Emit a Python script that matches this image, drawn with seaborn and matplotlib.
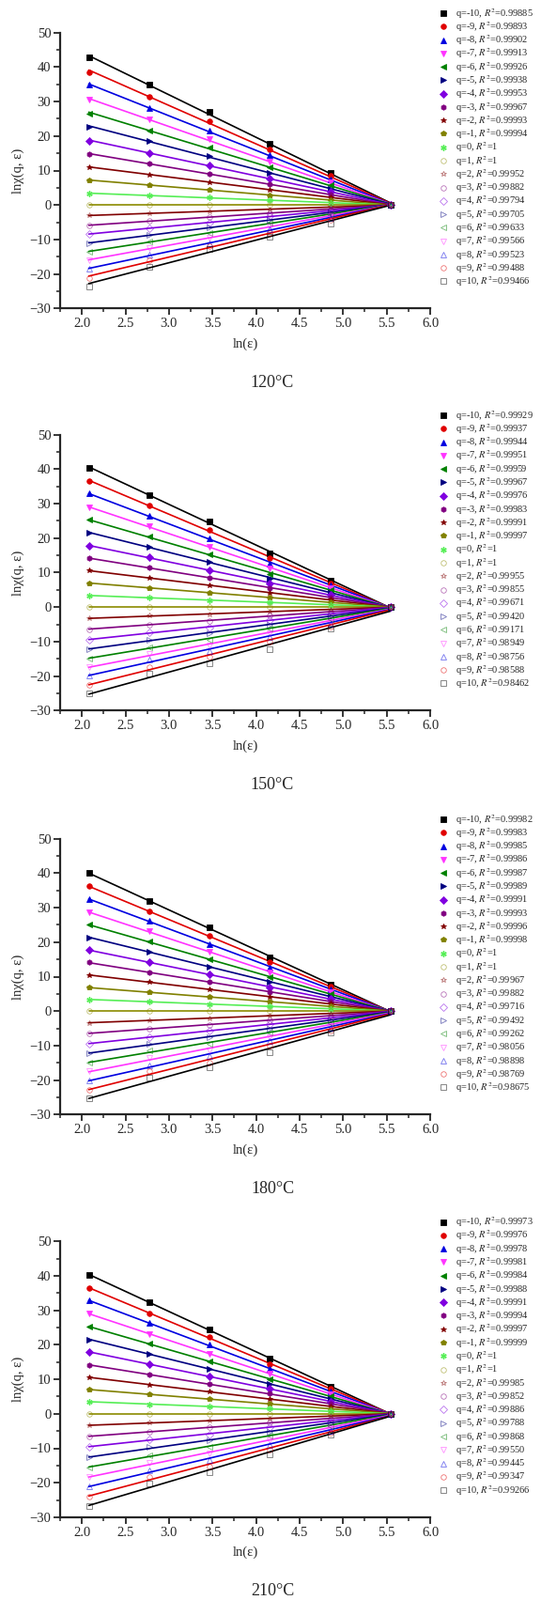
import numpy as np
import matplotlib
matplotlib.use("Agg")
import matplotlib.pyplot as plt
from matplotlib.lines import Line2D
from matplotlib.ticker import MultipleLocator, FormatStrFormatter
import seaborn as sns

sns.set_style("ticks")
plt.rcParams['font.family'] = ['Liberation Serif', 'DejaVu Serif']
plt.rcParams['mathtext.fontset'] = 'stix'

# ln(epsilon) box sizes 8..256
ln_eps = [2.079, 2.773, 3.466, 4.159, 4.852, 5.545]
q_values = list(range(-10, 11))
temps = ['120°C', '150°C', '180°C', '210°C']

# ln chi(q, eps), one row per q (-10 ... 10), columns follow ln_eps
chi_120 = [
    [42.7, 34.8, 27.0, 17.9, 9.3, 0], [38.6, 31.5, 24.3, 16.1, 8.4, 0],
    [34.8, 28.2, 21.5, 14.4, 7.5, 0], [30.6, 24.8, 19.0, 12.6, 6.6, 0],
    [26.6, 21.7, 16.6, 11.0, 5.7, 0], [22.7, 18.5, 14.1, 9.4, 4.8, 0],
    [18.7, 15.1, 11.5, 7.6, 3.9, 0], [14.8, 12.0, 9.1, 6.0, 3.0, 0],
    [11.0, 8.9, 6.6, 4.5, 2.2, 0], [7.2, 5.8, 4.4, 2.9, 1.4, 0],
    [3.45, 2.7, 2.1, 1.4, 0.7, 0], [0, 0, 0, 0, 0, 0],
    [-3.0, -2.5, -1.8, -1.2, -0.6, 0], [-5.9, -4.7, -3.5, -2.3, -1.2, 0],
    [-8.5, -6.7, -5.0, -3.3, -1.7, 0], [-11.2, -8.6, -6.5, -4.3, -2.2, 0],
    [-13.6, -10.7, -8.0, -5.2, -2.7, 0], [-16.1, -12.5, -9.5, -6.2, -3.2, 0],
    [-18.6, -14.5, -11.0, -7.1, -3.7, 0], [-21.2, -16.0, -12.0, -8.0, -4.3, 0],
    [-23.6, -17.8, -12.7, -9.1, -5.3, 0],
]
chi_150 = [
    [40.5, 32.6, 24.8, 15.7, 7.7, 0], [36.7, 29.5, 22.3, 14.1, 7.0, 0],
    [32.9, 26.4, 19.9, 12.7, 6.3, 0], [29.0, 23.4, 17.6, 11.1, 5.6, 0],
    [25.3, 20.4, 15.3, 9.7, 4.9, 0], [21.7, 17.4, 13.0, 8.3, 4.2, 0],
    [17.9, 14.4, 10.7, 6.8, 3.5, 0], [14.2, 11.4, 8.6, 5.5, 2.8, 0],
    [10.6, 8.5, 6.3, 4.1, 2.1, 0], [7.0, 5.6, 4.2, 2.7, 1.4, 0],
    [3.4, 2.7, 2.0, 1.4, 0.7, 0], [0, 0, 0, 0, 0, 0],
    [-3.3, -2.5, -2.1, -1.2, -0.7, 0], [-6.4, -5.0, -4.0, -2.5, -1.4, 0],
    [-9.4, -7.4, -5.9, -3.7, -2.1, 0], [-12.1, -9.5, -7.7, -5.0, -2.8, 0],
    [-14.8, -11.6, -9.4, -6.2, -3.5, 0], [-17.4, -13.5, -11.2, -7.6, -4.2, 0],
    [-19.8, -15.3, -12.7, -8.7, -4.9, 0], [-22.5, -17.4, -14.4, -10.0, -5.6, 0],
    [-25.0, -19.4, -16.4, -12.1, -6.3, 0],
]
chi_180 = [
    [40.0, 32.0, 24.2, 15.6, 7.8, 0], [36.2, 29.0, 21.8, 14.1, 7.1, 0],
    [32.5, 26.1, 19.5, 12.7, 6.4, 0], [28.7, 23.1, 17.2, 11.2, 5.6, 0],
    [25.0, 20.1, 15.1, 9.9, 4.9, 0], [21.4, 17.2, 12.9, 8.4, 4.2, 0],
    [17.7, 14.2, 10.6, 6.9, 3.5, 0], [14.1, 11.2, 8.4, 5.6, 2.8, 0],
    [10.5, 8.4, 6.3, 4.1, 2.1, 0], [6.8, 5.5, 4.1, 2.7, 1.4, 0],
    [3.4, 2.7, 2.0, 1.4, 0.7, 0], [0, 0, 0, 0, 0, 0],
    [-3.4, -2.7, -2.0, -1.3, -0.7, 0], [-6.5, -5.1, -3.9, -2.6, -1.4, 0],
    [-9.4, -7.5, -5.8, -3.8, -2.1, 0], [-12.2, -9.5, -7.7, -5.0, -2.8, 0],
    [-14.9, -11.5, -9.5, -6.3, -3.5, 0], [-17.5, -13.7, -11.3, -7.5, -4.2, 0],
    [-20.1, -15.7, -13.0, -8.8, -4.9, 0], [-22.7, -17.5, -14.8, -10.0, -5.6, 0],
    [-25.3, -19.3, -16.3, -12.0, -6.3, 0],
]
chi_210 = [
    [40.3, 32.3, 24.6, 16.0, 7.9, 0], [36.5, 29.2, 22.2, 14.5, 7.2, 0],
    [32.8, 26.3, 20.0, 13.0, 6.4, 0], [29.0, 23.2, 17.5, 11.6, 5.7, 0],
    [25.3, 20.3, 15.2, 10.1, 5.0, 0], [21.6, 17.3, 13.0, 8.7, 4.3, 0],
    [18.0, 14.3, 10.8, 7.3, 3.6, 0], [14.1, 11.4, 8.6, 5.9, 2.9, 0],
    [10.5, 8.5, 6.4, 4.4, 2.1, 0], [7.0, 5.6, 4.3, 3.0, 1.4, 0],
    [3.5, 2.8, 2.1, 1.5, 0.7, 0], [0, 0, 0, 0, 0, 0],
    [-3.4, -2.6, -2.0, -1.3, -0.7, 0], [-6.6, -5.1, -4.0, -2.6, -1.4, 0],
    [-9.6, -7.4, -6.0, -3.8, -2.1, 0], [-12.7, -9.7, -7.8, -5.1, -2.8, 0],
    [-15.5, -12.0, -9.7, -6.4, -3.5, 0], [-18.3, -14.3, -11.6, -7.8, -4.2, 0],
    [-21.1, -16.3, -13.5, -9.1, -4.9, 0], [-23.9, -18.3, -15.3, -10.3, -5.6, 0],
    [-26.7, -20.3, -17.0, -11.7, -6.1, 0],
]

r2_120 = ['0.99885', '0.99893', '0.99902', '0.99913', '0.99926', '0.99938', '0.99953',
          '0.99967', '0.99993', '0.99994', '1', '1', '0.99952', '0.99882', '0.99794',
          '0.99705', '0.99633', '0.99566', '0.99523', '0.99488', '0.99466']
r2_150 = ['0.99929', '0.99937', '0.99944', '0.99951', '0.99959', '0.99967', '0.99976',
          '0.99983', '0.99991', '0.99997', '1', '1', '0.99955', '0.99855', '0.99671',
          '0.99420', '0.99171', '0.98949', '0.98756', '0.98588', '0.98462']
r2_180 = ['0.99982', '0.99983', '0.99985', '0.99986', '0.99987', '0.99989', '0.99991',
          '0.99993', '0.99996', '0.99998', '1', '1', '0.99967', '0.99882', '0.99716',
          '0.99492', '0.99262', '0.98056', '0.98898', '0.98769', '0.98675']
r2_210 = ['0.99973', '0.99976', '0.99978', '0.99981', '0.99984', '0.99988', '0.99991',
          '0.99994', '0.99997', '0.99999', '1', '1', '0.99985', '0.99852', '0.99886',
          '0.99788', '0.99868', '0.99550', '0.99445', '0.99347', '0.99266']

# Origin-style colours / markers, q = -10 ... 10
colors = ['#000000', '#E00000', '#0000E0', '#FF33FF', '#008000', '#000080', '#8000E0',
          '#800080', '#800000', '#808000', '#55EE55', '#8B8B00', '#800000', '#800080',
          '#8000E0', '#000080', '#008000', '#FF33FF', '#0000E0', '#E00000', '#000000']
markers = ['s', 'o', '^', 'v', '<', '>', 'D', 'h', '*', 'p', (6, 2, 0), 'o', '*', 'o',
           'D', '>', '<', 'v', '^', 'o', 's']
hollow = [q >= 1 for q in q_values]

panels = [(chi_120, r2_120), (chi_150, r2_150), (chi_180, r2_180), (chi_210, r2_210)]

W, H = 576, 1703
fig = plt.figure(figsize=(W / 100, H / 100), dpi=100)

ax_left, ax_right = 64, 458
ax_tops = [34.7, 462.7, 892.7, 1321.3]
ax_h = 293.6

for (chi, r2), temp, top in zip(panels, temps, ax_tops):
    ax = fig.add_axes([ax_left / W, 1 - (top + ax_h) / H,
                       (ax_right - ax_left) / W, ax_h / H])
    handles = []
    for i, q in enumerate(q_values):
        y = chi[i]
        c = colors[i]
        sns.regplot(x=ln_eps, y=y, ax=ax, scatter=False, ci=None, truncate=True,
                    line_kws=dict(color=c, lw=1.2, zorder=2))
        if hollow[i]:
            kw = dict(marker=markers[i], ms=4, mfc='none', mec=c, mew=0.6, alpha=0.55)
        else:
            kw = dict(marker=markers[i], ms=4, mfc=c, mec=c, mew=0.6)
        if q == 0:
            kw = dict(marker=markers[i], ms=4.5, mfc=c, mec=c, mew=1.0)
        ax.plot(ln_eps, y, ls='none', zorder=3, **kw)
        handles.append(Line2D([], [], ls='none', label=f'q={q}, $R^2$={r2[i]}', **kw))

    ax.set_xlim(1.75, 6.0)
    ax.set_ylim(-30, 50)
    ax.xaxis.set_major_locator(MultipleLocator(0.5))
    ax.xaxis.set_minor_locator(MultipleLocator(0.25))
    ax.yaxis.set_major_locator(MultipleLocator(10))
    ax.yaxis.set_minor_locator(MultipleLocator(5))
    ax.xaxis.set_major_formatter(FormatStrFormatter('%.1f'))
    ax.tick_params(which='major', direction='out', length=5, width=1.3, labelsize=10.5, pad=2)
    ax.tick_params(which='minor', direction='out', length=3, width=1.1)
    for s in ['left', 'bottom']:
        ax.spines[s].set_linewidth(1.6)
    sns.despine(ax=ax)
    ax.set_xlabel('ln(ε)', fontsize=10.5, labelpad=6)
    ax.set_ylabel('lnχ(q, ε)', fontsize=10.5, labelpad=4)

    ax.legend(handles=handles, loc='upper left', bbox_to_anchor=(1.0215, 1 + 28 / ax_h),
              frameon=False, fontsize=7.5, handlelength=1.0, handletextpad=0.8,
              labelspacing=-0.06, borderpad=0, borderaxespad=0)

    fig.text(290 / W, 1 - (top + ax_h + 79) / H, temp, fontsize=13,
             ha='center', va='center')

fig.savefig('out.png', dpi=100)
